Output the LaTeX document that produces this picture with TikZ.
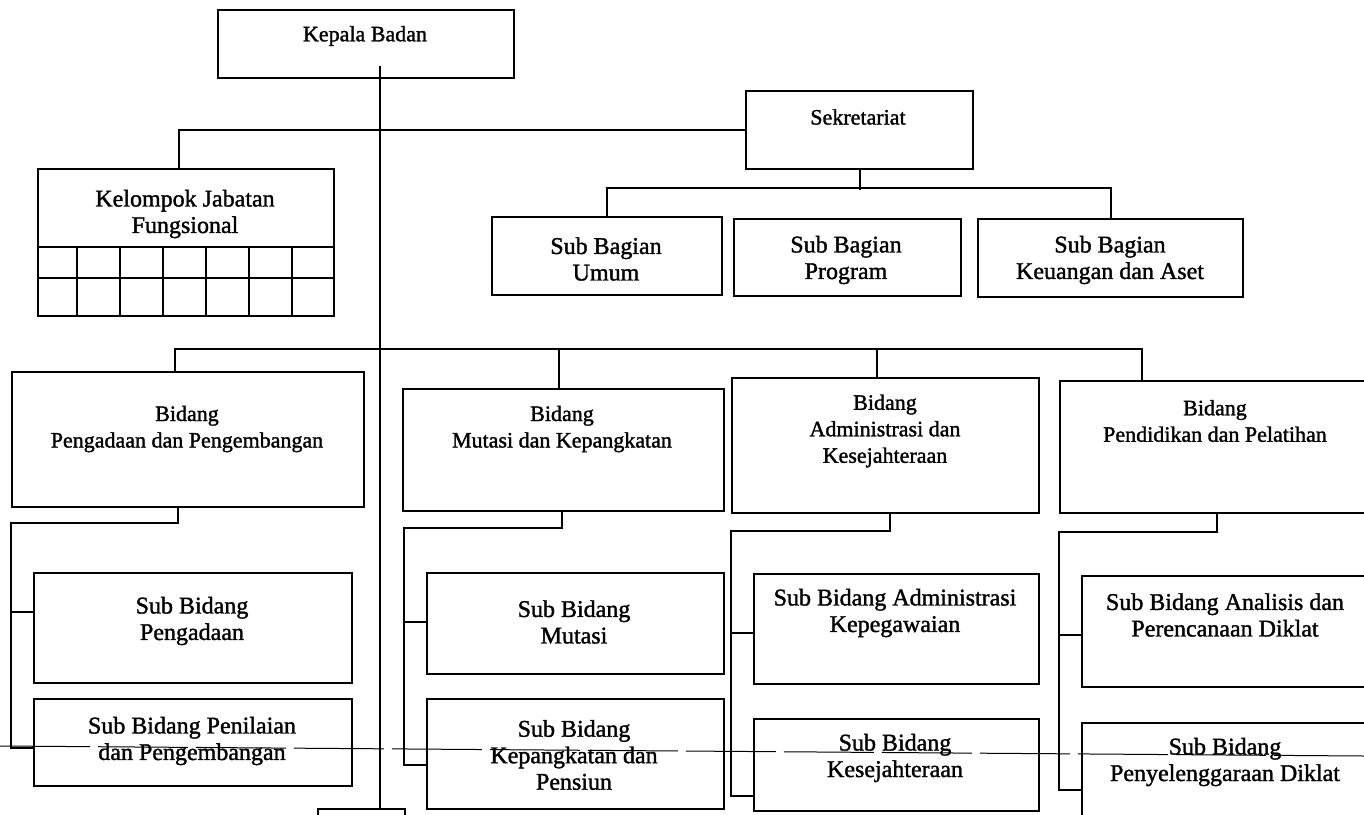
\documentclass[tikz,border=0pt]{standalone}
\usepackage{fontspec}
\setmainfont{Liberation Serif}[FakeBold=1.4]
\begin{document}
\begin{tikzpicture}[x=1pt,y=-1pt,
  box/.style={draw, line width=2.4pt, anchor=north west, inner sep=0pt},
  conn/.style={line width=2pt},
  big/.style={font=\fontsize{24}{26.5}\selectfont, align=center, inner sep=0pt},
  med/.style={font=\fontsize{22}{26.5}\selectfont, align=center, inner sep=0pt}]
\useasboundingbox (0,0) rectangle (1364,814);
\clip (0,0) rectangle (1364,814);
% boxes
\node[box, minimum width=296pt, minimum height=68pt] (kepala) at (217,9) {};
\node[box, minimum width=227pt, minimum height=78pt] (sek) at (745,90) {};
\node[box, minimum width=296pt, minimum height=147pt] (kjf) at (37,168) {};
\node[box, minimum width=230pt, minimum height=78pt] (sbu) at (491,216) {};
\node[box, minimum width=227pt, minimum height=77pt] (sbp) at (733,218) {};
\node[box, minimum width=265pt, minimum height=78pt] (keu) at (977,218) {};
\node[box, minimum width=352pt, minimum height=135pt] (bp) at (11,371) {};
\node[box, minimum width=321pt, minimum height=122pt] (bm) at (402,388) {};
\node[box, minimum width=307pt, minimum height=135pt] (ba) at (731,377) {};
\node[box, minimum width=330pt, minimum height=132pt] (bd) at (1059,380) {};
\node[box, minimum width=318pt, minimum height=110pt] (s11) at (33,572) {};
\node[box, minimum width=318pt, minimum height=87pt] (s12) at (33,698) {};
\node[box, minimum width=297pt, minimum height=101pt] (s21) at (426,572) {};
\node[box, minimum width=297pt, minimum height=110pt] (s22) at (426,698) {};
\node[box, minimum width=285pt, minimum height=110pt] (s31) at (753,573) {};
\node[box, minimum width=285pt, minimum height=92pt] (s32) at (753,718) {};
\node[box, minimum width=310pt, minimum height=111pt] (s41) at (1081,575) {};
\node[box, minimum width=310pt, minimum height=120pt] (s42) at (1081,722) {};
\node[box, minimum width=87pt, minimum height=40pt] (bot) at (317,808) {};
% grid of the functional group
\draw[line width=2.2pt] (37,247) -- (333,247) (37,278) -- (333,278);
\foreach \x in {77,120,163,206,249,292} \draw[line width=2.2pt] (\x,247) -- (\x,315);
% texts
\node[med] (tkepala) at (365,36) {Kepala Badan};
\node[med] (tsek) at (858,117) {Sekretariat};
\node[big] (tkjf) at (185,214) {Kelompok Jabatan\\Fungsional};
\node[big] (tsbu) at (606,259) {Sub Bagian\\Umum};
\node[big] (tsbp) at (846,260) {Sub Bagian\\Program};
\node[big] (tkeu) at (1110,260) {Sub Bagian\\Keuangan dan Aset};
\node[med] (tbp) at (187,429) {Bidang\\Pengadaan dan Pengembangan};
\node[med] (tbm) at (562,429) {Bidang\\Mutasi dan Kepangkatan};
\node[med] (tba) at (885,431) {Bidang\\Administrasi dan\\Kesejahteraan};
\node[med] (tbd) at (1215,421) {Bidang\\Pendidikan dan Pelatihan};
\node[big] (ts11) at (192,621) {Sub Bidang\\Pengadaan};
\node[big] (ts12) at (192,741) {Sub Bidang Penilaian\\dan Pengembangan};
\node[big] (ts21) at (574,622) {Sub Bidang\\Mutasi};
\node[big] (ts22) at (574,755) {Sub Bidang\\Kepangkatan dan\\Pensiun};
\node[big] (ts31) at (895,613) {Sub Bidang Administrasi\\Kepegawaian};
\node[big] (ts32) at (895,758) {Sub Bidang\\Kesejahteraan};
\node[big] (ts41) at (1225,615) {Sub Bidang Analisis dan\\Perencanaan Diklat};
\node[big] (ts42) at (1225,762) {Sub Bidang\\Penyelenggaraan Diklat};
% connectors
\coordinate (v0) at (380,66);
\draw[conn] (v0) -- (v0 |- bot.north);
\draw[conn] ([xshift=-7pt]kjf.north) |- (sek.west);
\draw[conn] (sek.south) -- ++(0,20);
\draw[conn] (sbu.north) -- ++(0,-28) -| (keu.north);
\coordinate (m1) at (175,349);
\coordinate (m4) at (1142,349);
\draw[conn] (m1 |- bp.north) -- (m1) -- (m4) -- (m4 |- bd.north);
\draw[conn] (559,349) -- (bm.north -| 559,349);
\draw[conn] (877,349) -- (ba.north -| 877,349);
\draw[conn] (bp.south -| 178,0) -- (178,523) -- (11,523) -- (11,748) -- (s12.west |- 0,748);
\draw[conn] (11,612) -- (s11.west |- 0,612);
\draw[conn] (bm.south -| 562,0) -- (562,528) -- (404,528) -- (404,765) -- (s22.west |- 0,765);
\draw[conn] (404,622) -- (s21.west |- 0,622);
\draw[conn] (ba.south -| 890,0) -- (890,531) -- (731,531) -- (731,796) -- (s32.west |- 0,796);
\draw[conn] (731,633) -- (s31.west |- 0,633);
\draw[conn] (bd.south -| 1217,0) -- (1217,532) -- (1059,532) -- (1059,790) -- (s42.west |- 0,790);
\draw[conn] (1059,635) -- (s41.west |- 0,635);
% thin scan line across the page
\draw[line width=1pt, dash pattern=on 90pt off 8pt] (0,746) -- (1364,756);
\end{tikzpicture}
\end{document}
